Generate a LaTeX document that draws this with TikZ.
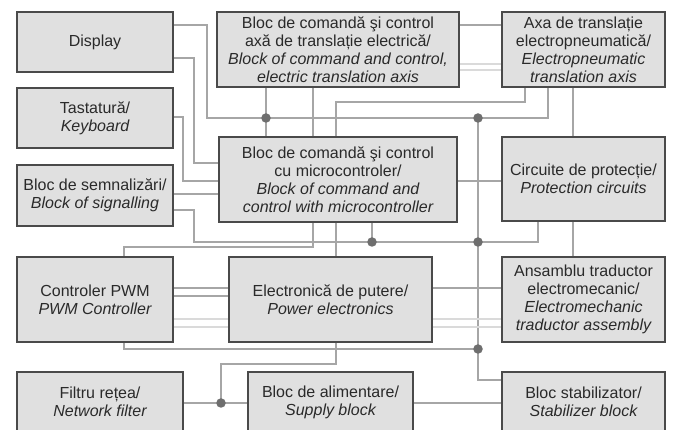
\documentclass[tikz,border=0pt]{standalone}
\usepackage{fontspec}
\setmainfont{Liberation Sans}
\usetikzlibrary{backgrounds}
\definecolor{boxfill}{HTML}{E0E0E0}
\definecolor{boxline}{HTML}{4A4A4A}
\definecolor{wirec}{HTML}{A6A6A6}
\definecolor{wirelight}{HTML}{DADADA}
\definecolor{dotc}{HTML}{6E6E6E}
\definecolor{txt}{HTML}{2A2A2A}
\begin{document}
\begin{tikzpicture}[x=1pt,y=-1pt,
  blk/.style={draw=boxline, line width=1.5pt, fill=boxfill, anchor=north west,
    inner sep=0pt, outer sep=0pt, align=center, text=txt,
    font=\fontsize{16}{18}\selectfont},
  wire/.style={draw=wirec, line width=1.3pt},
  lwire/.style={draw=wirelight, line width=1.3pt},
  jdot/.style={circle, fill=dotc, inner sep=0pt, minimum size=9.5pt}]
\useasboundingbox (0,0) rectangle (673,430);
\clip (0,0) rectangle (673,430);
% boxes
\node[blk, minimum width=156, minimum height=60] (disp) at (17,12) {Display};
\node[blk, minimum width=156, minimum height=60] (tast) at (17,88) {Tastatură/\\\itshape Keyboard};
\node[blk, minimum width=156, minimum height=61] (semn) at (17,165) {Bloc de semnalizări/\\\itshape Block of signalling};
\node[blk, minimum width=156, minimum height=85] (pwm) at (17,257) {Controler PWM\\\itshape PWM Controller};
\node[blk, minimum width=166, minimum height=60] (filt) at (17,372) {Filtru rețea/\\\itshape Network filter};
\node[blk, minimum width=242, minimum height=75] (elec) at (217,12) {Bloc de comandă şi control\\axă de translație electrică/\\\itshape Block of command and control,\\\itshape electric translation axis};
\node[blk, minimum width=163, minimum height=75] (axa) at (502,12) {Axa de translație\\electropneumatică/\\\itshape Electropneumatic\\\itshape translation axis};
\node[blk, minimum width=238, minimum height=85] (mcu) at (219,137) {Bloc de comandă şi control\\cu microcontroler/\\\itshape Block of command and\\\itshape control with microcontroller};
\node[blk, minimum width=163, minimum height=84] (prot) at (502,137) {Circuite de protecție/\\\itshape Protection circuits};
\node[blk, minimum width=203, minimum height=85] (putere) at (229,257) {Electronică de putere/\\\itshape Power electronics};
\node[blk, minimum width=163, minimum height=85] (ansa) at (502,257) {Ansamblu traductor\\electromecanic/\\\itshape Electromechanic\\\itshape traductor assembly};
\node[blk, minimum width=165, minimum height=60] (alim) at (248,372) {Bloc de alimentare/\\\itshape Supply block};
\node[blk, minimum width=163, minimum height=60] (stab) at (502,372) {Bloc stabilizator/\\\itshape Stabilizer block};
% junction dots
\node[jdot] (j1) at (266,118) {};
\node[jdot] (j2) at (478,118) {};
\node[jdot] (j3) at (372,242) {};
\node[jdot] (j4) at (478,242) {};
\node[jdot] (j5) at (478,349) {};
\node[jdot] (j6) at (221,403) {};
% wires
\begin{scope}[on background layer]
\draw[wire] (disp.east |- 0,25) -| (207,118) -- (j2.center) -| (axa.south -| 548,0);
\draw[wire] (elec.south -| j1) -- (mcu.north -| j1);
\draw[wire] (elec.south -| 313,0) -- (mcu.north -| 313,0);
\draw[wire] (mcu.north -| 336,0) |- (525,102) -- (axa.south -| 525,0);
\draw[wire] (elec.east |- 0,25) -- (axa.west |- 0,25);
\draw[lwire] (elec.east |- 0,64) -- (axa.west |- 0,64);
\draw[lwire] (elec.east |- 0,70) -- (axa.west |- 0,70);
\draw[wire] (axa.south -| 573,0) -- (prot.north -| 573,0);
\draw[wire] (disp.east |- 0,58) -| (194,163) -- (mcu.west |- 0,163);
\draw[wire] (tast.east |- 0,117) -| (183,181) -- (mcu.west |- 0,181);
\draw[wire] (semn.east |- 0,194) -- (mcu.west |- 0,194);
\draw[wire] (semn.east |- 0,210) -| (194,242) -- (j4.center) -| (prot.south -| 538,0);
\draw[wire] (mcu.south -| j3) -- (j3.center);
\draw[wire] (j2.center) -- (j4.center) -- (j5.center) |- (stab.west |- 0,380);
\draw[wire] (mcu.east |- 0,181) -- (prot.west |- 0,181);
\draw[wire] (pwm.north -| 124,0) |- (313,247) -- (mcu.south -| 313,0);
\draw[wire] (mcu.south -| 336,0) -- (putere.north -| 336,0);
\draw[wire] (prot.south -| 573,0) -- (ansa.north -| 573,0);
\draw[wire] (pwm.east |- 0,288) -- (putere.west |- 0,288);
\draw[wire] (pwm.east |- 0,296) -- (putere.west |- 0,296);
\draw[lwire] (pwm.east |- 0,319) -- (putere.west |- 0,319);
\draw[lwire] (pwm.east |- 0,327) -- (putere.west |- 0,327);
\draw[lwire] (putere.east |- 0,319) -- (ansa.west |- 0,319);
\draw[lwire] (putere.east |- 0,327) -- (ansa.west |- 0,327);
\draw[wire] (putere.east |- 0,288) -- (ansa.west |- 0,288);
\draw[wire] (pwm.south -| 124,0) |- (j5.center);
\draw[wire] (putere.south -| 336,0) |- (221,364) -- (j6.center);
\draw[wire] (filt.east |- j6) -- (alim.west |- j6);
\draw[wire] (alim.east |- j6) -- (stab.west |- j6);
\end{scope}
\end{tikzpicture}
\end{document}
